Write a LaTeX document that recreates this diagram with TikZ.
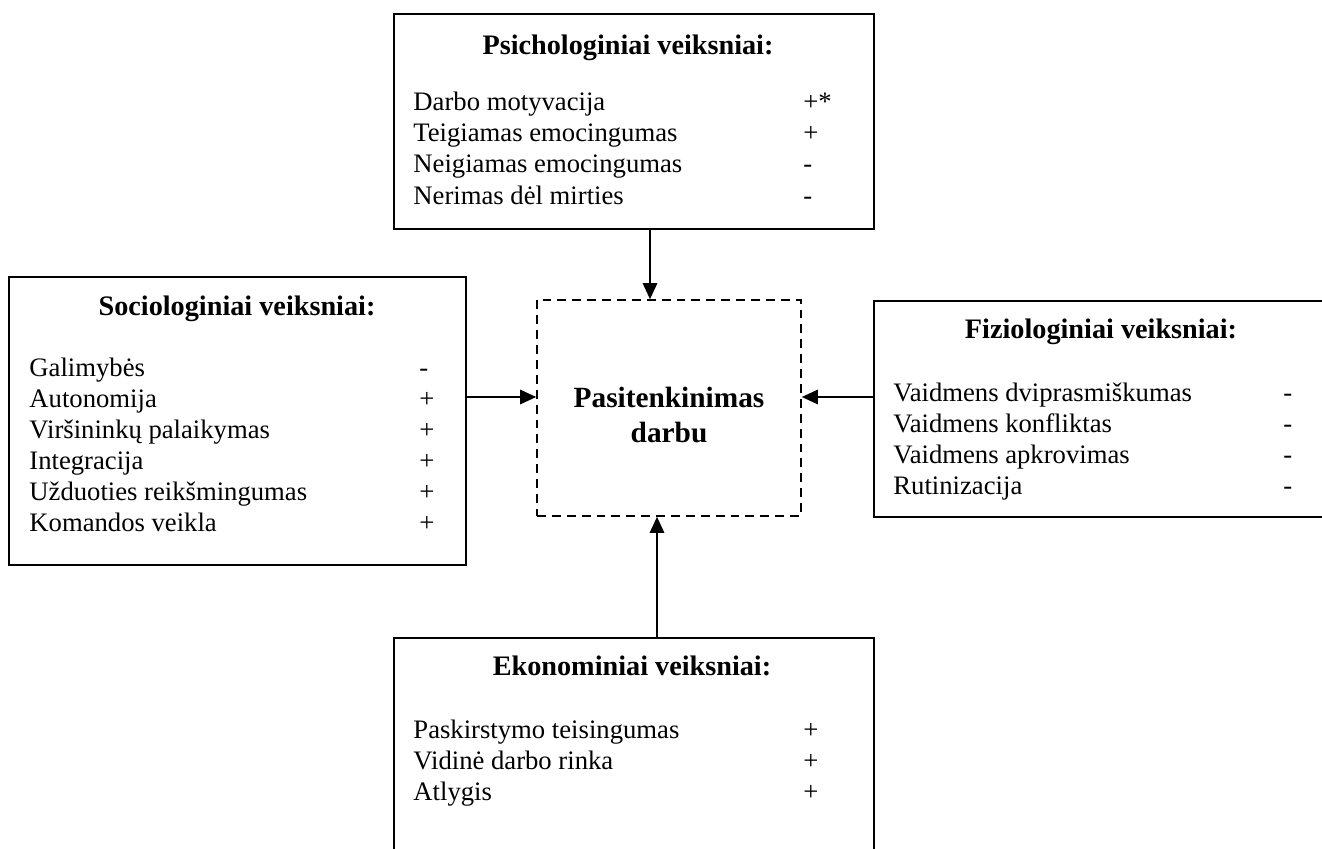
\documentclass[tikz,border=0pt]{standalone}
\usepackage{fontspec}
\setmainfont{Liberation Serif}
\usepackage{tikz}
\usetikzlibrary{arrows.meta}

\newcommand{\ttlfont}{\fontsize{12.7}{15}\selectfont\bfseries}
\newcommand{\goalfont}{\fontsize{13.2}{15.8}\selectfont\bfseries}
\newcommand{\lstfont}{\fontsize{12}{13.95}\selectfont}
\newcommand{\factorlist}[1]{\begin{tabular}[t]{@{}p{175.5pt}@{}l@{}}#1\end{tabular}}

\begin{document}
\begin{tikzpicture}[x=0.45pt, y=-0.45pt,
	box/.style={draw, line width=0.75pt, inner sep=0pt, anchor=north west},
	goalbox/.style={draw, dash pattern=on 4pt off 2.7pt, line width=0.75pt, inner sep=0pt},
	arr/.style={-{Triangle[length=7.2pt,width=6.5pt]}, line width=0.75pt},
	ttl/.style={anchor=base, inner sep=0pt, font=\ttlfont},
	lst/.style={anchor=base west, inner sep=0pt, font=\lstfont}]
	\clip (0,0) rectangle (1322,848);
	% boxes
	\node[box, minimum width=216pt, minimum height=96.75pt] (psych) at (393,13) {};
	\node[box, minimum width=205.65pt, minimum height=129.6pt] (socio) at (8,276) {};
	\node[box, minimum width=214.65pt, minimum height=97.2pt] (fizio) at (873,300) {};
	\node[box, minimum width=216pt, minimum height=109.35pt] (ekon) at (393,637) {};
	\node[goalbox, minimum width=118.8pt, minimum height=97.2pt] (goal) at (669,408) {};
	\node[inner sep=0pt, align=center, font=\goalfont] (goalT) at (669,415) {Pasitenkinimas\\darbu};
	% titles
	\node[ttl] (psychT) at (628,55) {Psichologiniai veiksniai:};
	\node[ttl] (socioT) at (237,315) {Sociologiniai veiksniai:};
	\node[ttl] (fizioT) at (1101,338) {Fiziologiniai veiksniai:};
	\node[ttl] (ekonT) at (632,675) {Ekonominiai veiksniai:};
	% factor lists
	\node[lst] (psychL) at (413,111) {\factorlist{%
		Darbo motyvacija & +*\\
		Teigiamas emocingumas & +\\
		Neigiamas emocingumas & -\\
		Nerimas dėl mirties & -}};
	\node[lst] (socioL) at (29,376) {\factorlist{%
		Galimybės & -\\
		Autonomija & +\\
		Viršininkų palaikymas & +\\
		Integracija & +\\
		Užduoties reikšmingumas & +\\
		Komandos veikla & +}};
	\node[lst] (fizioL) at (893,401) {\factorlist{%
		Vaidmens dviprasmiškumas & -\\
		Vaidmens konfliktas & -\\
		Vaidmens apkrovimas & -\\
		Rutinizacija & -}};
	\node[lst] (ekonL) at (413,738) {\factorlist{%
		Paskirstymo teisingumas & +\\
		Vidinė darbo rinka & +\\
		Atlygis & +}};
	% arrows
	\coordinate (inN) at (650,0);
	\coordinate (inS) at (657,0);
	\coordinate (inW) at (0,397);
	\draw[arr] (psych.south -| inN) -- (goal.north -| inN);
	\draw[arr] (socio.east |- inW) -- (goal.west |- inW);
	\draw[arr] (fizio.west |- inW) -- (goal.east |- inW);
	\draw[arr] (ekon.north -| inS) -- (goal.south -| inS);
\end{tikzpicture}
\end{document}
